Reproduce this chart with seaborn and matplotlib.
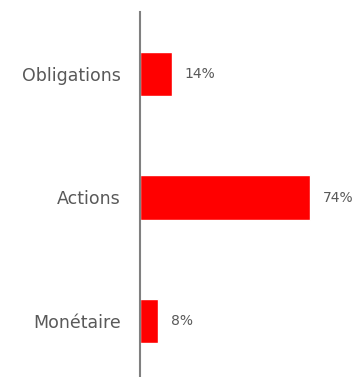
import matplotlib
matplotlib.use("Agg")
import matplotlib.pyplot as plt
import seaborn as sns
import pandas as pd

categories = ["Obligations", "Actions", "Monétaire"]
values = [14, 74, 8]
value_labels = ["14%", "74%", "8%"]

sns.set_style("white")
plt.rcParams["font.family"] = ["DejaVu Sans"]

W, H, DPI = 356, 377, 100
fig = plt.figure(figsize=(W / DPI, H / DPI), dpi=DPI)
# axes placed in pixel units: value 0 at x=140, spine from y=12 downward
left, right = 140, 345
top, bottom = 12, 383
ax = fig.add_axes([left / W, (H - bottom) / H, (right - left) / W, (bottom - top) / H])

df = pd.DataFrame({"cat": categories, "val": values})
sns.barplot(data=df, x="val", y="cat", orient="h", color="#FF0000",
            saturation=1, width=0.36, ax=ax)

ax.set_xlim(0, 89)
ax.set_ylim(2.5, -0.5)
ax.set_xlabel("")
ax.set_ylabel("")
ax.set_xticks([])
for s in ["top", "right", "bottom"]:
    ax.spines[s].set_visible(False)
ax.spines["left"].set_color("#808080")
ax.spines["left"].set_linewidth(1.5)

ax.tick_params(axis="y", length=0, pad=14, labelsize=12.5, labelcolor="#595959")

ax.bar_label(ax.containers[0], labels=value_labels, padding=9,
             fontsize=10, color="#595959")

fig.savefig("out.png", dpi=DPI)
